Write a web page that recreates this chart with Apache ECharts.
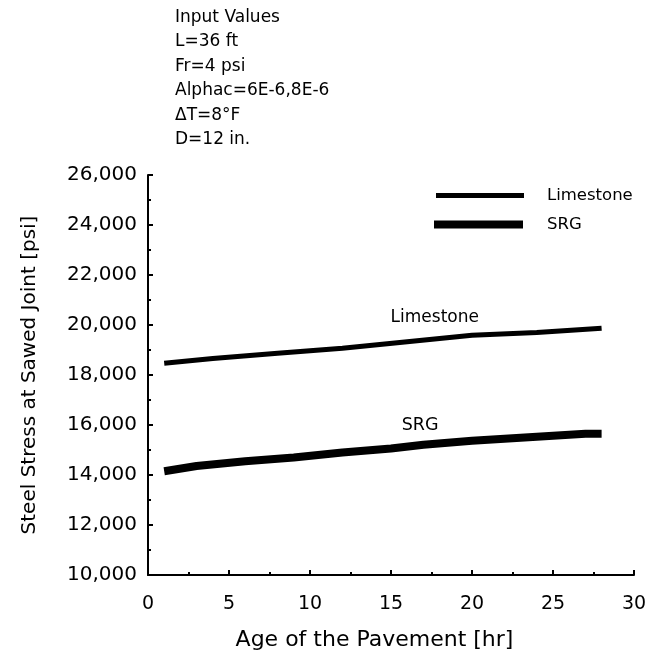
<!DOCTYPE html>
<html>
<head>
<meta charset="utf-8">
<script src="https://cdn.jsdelivr.net/npm/echarts@6/dist/echarts.min.js"></script>
<style>
  html, body { margin: 0; padding: 0; background: #fff; }
  #chart { width: 660px; height: 656px; }
</style>
</head>
<body>
<div id="chart"></div>
<script>
// Steel stress at the sawed joint vs. pavement age, two aggregate types
const ageHours = [0, 5, 10, 15, 20, 25, 30];
const limestone = [[1, 18470], [4, 18660], [8, 18870], [12, 19070], [16, 19330], [20, 19590], [24, 19700], [28, 19870]];
const srg = [[1, 14150], [3, 14360], [6, 14550], [9, 14700], [12, 14900], [15, 15060], [17, 15210], [20, 15370], [24, 15530], [27, 15650], [28, 15650]];
const stressTicks = [10000, 12000, 14000, 16000, 18000, 20000, 22000, 24000, 26000];
const inputValues = ['Input Values', 'L=36 ft', 'Fr=4 psi', 'Alphac=6E-6,8E-6', '\u0394T=8\u00B0F', 'D=12 in.'];
const seriesNames = ['Limestone', 'SRG'];
const lineLabels = [{ name: 'Limestone', coord: [17.7, 20290] }, { name: 'SRG', coord: [16.8, 16000] }];

const FONT = 'DejaVu Sans';
const chart = echarts.init(document.getElementById('chart'), null, { renderer: 'canvas' });

const axisCommon = {
  axisLine: { show: true, lineStyle: { color: '#000', width: 2 } },
  axisTick: { show: true, inside: true, length: 5, lineStyle: { color: '#000', width: 2 } },
  minorTick: { show: true, splitNumber: 2, length: 3, lineStyle: { color: '#000', width: 2 } },
  splitLine: { show: false }
};

chart.setOption({
  animation: false,
  backgroundColor: '#fff',
  title: {
    text: inputValues.join('\n'),
    left: 170,
    top: 0,
    textStyle: { fontFamily: FONT, fontSize: 17, fontWeight: 'normal', color: '#000', lineHeight: 24.5 }
  },
  legend: [
    {
      data: [seriesNames[0]],
      left: 431, top: 182, padding: 5,
      icon: 'rect', itemWidth: 88, itemHeight: 5,
      textStyle: { fontFamily: FONT, fontSize: 16.5, color: '#000', padding: [0, 0, 0, 18] },
      selectedMode: false
    },
    {
      data: [seriesNames[1]],
      left: 429, top: 211, padding: 5,
      icon: 'rect', itemWidth: 89, itemHeight: 8,
      textStyle: { fontFamily: FONT, fontSize: 16.5, color: '#000', padding: [0, 0, 0, 19] },
      selectedMode: false
    }
  ],
  grid: { left: 148, right: 26, top: 175, bottom: 79, containLabel: false },
  xAxis: Object.assign({}, axisCommon, {
    type: 'value',
    min: ageHours[0], max: ageHours[ageHours.length - 1], interval: 5,
    name: 'Age of the Pavement [hr]',
    nameLocation: 'middle', nameGap: 54,
    nameTextStyle: { color: '#000', fontFamily: FONT, fontSize: 22, padding: [0, 33, 0, 0] },
    axisLabel: { color: '#000', fontFamily: FONT, fontSize: 19, margin: 20 }
  }),
  yAxis: Object.assign({}, axisCommon, {
    type: 'value',
    min: stressTicks[0], max: stressTicks[stressTicks.length - 1], interval: 2000,
    name: 'Steel Stress at Sawed Joint [psi]',
    nameLocation: 'middle', nameGap: 108, nameRotate: 90,
    nameTextStyle: { color: '#000', fontFamily: FONT, fontSize: 20 },
    axisLabel: {
      color: '#000', fontFamily: FONT, fontSize: 20, margin: 11,
      formatter: v => v.toLocaleString('en-US')
    }
  }),
  series: [
    {
      name: seriesNames[0], type: 'line', data: limestone, symbol: 'none', smooth: false,
      lineStyle: { color: '#000', width: 5 }, itemStyle: { color: '#000' },
      markPoint: {
        symbolSize: 0,
        data: [{ coord: lineLabels[0].coord, value: lineLabels[0].name }],
        label: { show: true, formatter: lineLabels[0].name, color: '#000', fontFamily: FONT, fontSize: 17 }
      }
    },
    {
      name: seriesNames[1], type: 'line', data: srg, symbol: 'none', smooth: false,
      lineStyle: { color: '#000', width: 8 }, itemStyle: { color: '#000' },
      markPoint: {
        symbolSize: 0,
        data: [{ coord: lineLabels[1].coord, value: lineLabels[1].name }],
        label: { show: true, formatter: lineLabels[1].name, color: '#000', fontFamily: FONT, fontSize: 17.5 }
      }
    }
  ]
});
</script>
</body>
</html>
